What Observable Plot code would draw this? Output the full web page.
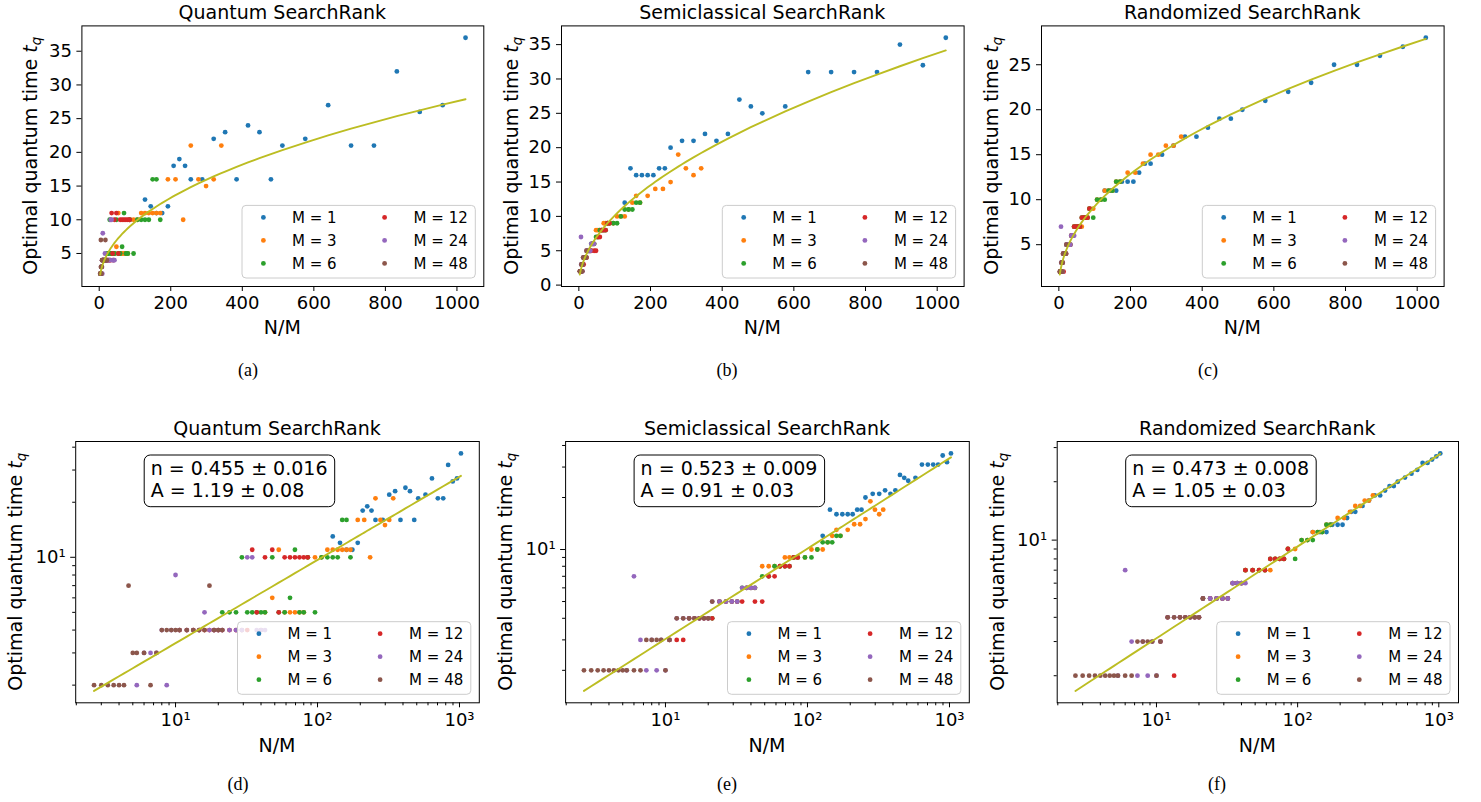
<!DOCTYPE html>
<html><head><meta charset="utf-8">
<script src="https://cdn.jsdelivr.net/npm/d3@7"></script>
<script src="https://cdn.jsdelivr.net/npm/@observablehq/plot@0.6"></script>
<style>
html,body{margin:0;padding:0;background:#fff;overflow:hidden;}
#root{position:relative;width:1481px;height:802px;background:#fff;}
#root svg{position:absolute;left:0;top:0;}
</style></head>
<body><div id="root"></div>
<script>
// ---------- DATA ----------
const N_VALUES = [128,144,160,176,192,208,224,240,256,288,320,352,384,416,448,480,512,576,640,704,768,832,896,960,1024];
const M_VALUES = [1,3,6,12,24,48];
const COLORS = ["#1f77b4","#ff7f0e","#2ca02c","#d62728","#9467bd","#8c564b"];

const quantum_M1  = [13,12,11,11,12,18,19,18,16,16,22,23,16,24,23,16,21,22,27,21,21,32,26,27,37];
const quantum_M3  = [5,6,11,5,5,5,5,5,10,10,10,11,11,11,11,11,11,16,16,10,21,16,15,16,21];
const quantum_M6  = [5,5,5,10,5,5,5,5,5,10,5,5,6,11,5,5,10,5,10,10,10,10,16,16,10];
const quantum_M12 = [4,4,4,4,4,4,4,4,4,4,4,4,4,11,5,4,10,11,5,10,10,10,10,10,10];
const quantum_M24 = [2,3,3,3,4,2,4,8,4,4,4,4,5,4,4,4,4,4,4,4,10,10,4,4,4];
const quantum_M48 = [2,2,2,2,2,2,7,3,3,3,2,3,4,4,4,4,4,4,4,4,4,7,4,4,4];

const semi_M1  = [12,17,16,16,16,16,17,17,20,21,21,22,21,22,27,26,25,26,31,31,31,31,35,32,36];
const semi_M3  = [6,8,8,8,8,9,9,9,9,9,10,10,10,11,12,13,12,13,14,14,15,19,17,16,17];
const semi_M6  = [4,5,5,5,5,6,6,6,6,7,7,8,8,8,8,9,9,9,9,10,11,11,11,12,12];
const semi_M12 = [3,3,3,4,4,4,4,4,4,5,5,5,5,5,6,6,5,5,7,7,8,8,8,9,9];
const semi_M24 = [2,7,3,2,3,2,3,2,3,4,4,4,4,4,4,4,5,5,5,5,5,6,6,6,6];
const semi_M48 = [2,2,2,2,2,2,2,2,2,2,2,3,3,3,3,2,3,4,4,4,4,4,4,4,5];

const rand_M1  = [11,11,11,12,12,12,13,14,14,15,16,17,17,18,19,19,20,21,22,23,25,25,26,27,28];
const rand_M3  = [7,7,7,7,7,8,8,8,9,9,10,10,11,11,11,12,12,13,13,14,15,15,16,16,17];
const rand_M6  = [5,5,5,5,5,6,6,6,7,7,7,7,8,8,8,8,9,8,10,10,10,11,11,12,12];
const rand_M12 = [3,4,2,4,4,4,4,4,5,5,5,5,5,6,6,6,7,7,7,7,8,8,8,8,9];
const rand_M24 = [2,7,3,2,3,2,3,2,3,4,4,4,4,4,4,4,5,5,5,5,5,6,6,6,6];
const rand_M48 = [2,2,2,2,2,2,2,2,2,2,2,3,3,3,3,2,3,4,4,4,4,4,4,4,5];

const TITLES = ["Quantum SearchRank","Semiclassical SearchRank","Randomized SearchRank"];
const FIT_N = [0.455,0.523,0.473];
const FIT_A = [1.19,0.91,1.05];
const FIT_N_TEXT = ["0.455 ± 0.016","0.523 ± 0.009","0.473 ± 0.008"];
const FIT_A_TEXT = ["1.19 ± 0.08","0.91 ± 0.03","1.05 ± 0.03"];
const LIN_X_TICKS = [0,200,400,600,800,1000];
const LIN_Y_TICKS = [[5,10,15,20,25,30,35],[0,5,10,15,20,25,30,35],[5,10,15,20,25]];
const LOG_MAJOR = [10,100,1000];
const LOG_LABELS = {10:"10¹",100:"10²",1000:"10³"};
const LOG_MINOR = [2,3,4,5,6,7,8,9,20,30,40,50,60,70,80,90,200,300,400,500,600,700,800,900];
const CAPTIONS = ["(a)","(b)","(c)","(d)","(e)","(f)"];
const Y_LABEL = "Optimal quantum time ";
const X_LABEL = "N/M";

const SERIES = [
  [quantum_M1,quantum_M3,quantum_M6,quantum_M12,quantum_M24,quantum_M48],
  [semi_M1,semi_M3,semi_M6,semi_M12,semi_M24,semi_M48],
  [rand_M1,rand_M3,rand_M6,rand_M12,rand_M24,rand_M48]
];

// ---------- LAYOUT ----------
const W = 1481, H = 802;
const PANELS = [
  {m:0, log:false, L:81.4,  R:483.3,  T:25.4, B:286,   ylx:36.5,  capx:248,  capy:376},
  {m:1, log:false, L:561,   R:963.6,  T:25.4, B:286,   ylx:518,   capx:727,  capy:376},
  {m:2, log:false, L:1041,  R:1443.6, T:25.4, B:286,   ylx:998,   capx:1208, capy:376},
  {m:0, log:true,  L:75.2,  R:478.8,  T:441,  B:702.3, ylx:22,    capx:238,  capy:790},
  {m:1, log:true,  L:565.1, R:968.8,  T:441,  B:702.3, ylx:512,   capx:727,  capy:790},
  {m:2, log:true,  L:1056.7,R:1458,   T:441,  B:702.3, ylx:1003.5,capx:1217, capy:790}
];

const root = document.getElementById("root");

function pad(lo, hi, log) {
  if (log) {
    const a = Math.log10(lo), b = Math.log10(hi), s = b - a;
    return [10 ** (a - 0.05 * s), 10 ** (b + 0.05 * s)];
  }
  const s = hi - lo;
  return [lo - 0.05 * s, hi + 0.05 * s];
}

PANELS.forEach((p, pi) => {
  const groups = M_VALUES.map((M, i) => SERIES[p.m][i].map((t, j) => ({x: N_VALUES[j] / M, t, M})));
  const all = groups.flat();
  const xs = Array.from(new Set(all.map(d => d.x))).sort((a, b) => a - b);
  const fit = xs.map(x => ({x, t: FIT_A[p.m] * Math.pow(x, FIT_N[p.m])}));
  const xd = pad(d3.min(xs), d3.max(xs), p.log);
  const yd = pad(Math.min(d3.min(all, d => d.t), d3.min(fit, d => d.t)),
                 Math.max(d3.max(all, d => d.t), d3.max(fit, d => d.t)), p.log);

  const common = {tickSize: 5, tickPadding: 5, fontSize: 18, label: null};
  let axes;
  if (p.log) {
    axes = [
      Plot.axisX({...common, ticks: LOG_MAJOR, tickFormat: d => LOG_LABELS[d]}),
      Plot.axisX({...common, ticks: LOG_MINOR.filter(v => v > xd[0] && v < xd[1]), tickSize: 3, tickFormat: () => ""}),
      Plot.axisY({...common, ticks: LOG_MAJOR.filter(v => v > yd[0] && v < yd[1]), tickFormat: d => LOG_LABELS[d]}),
      Plot.axisY({...common, ticks: LOG_MINOR.filter(v => v > yd[0] && v < yd[1]), tickSize: 3, tickFormat: () => ""})
    ];
  } else {
    axes = [
      Plot.axisX({...common, ticks: LIN_X_TICKS, tickFormat: d => String(d)}),
      Plot.axisY({...common, ticks: LIN_Y_TICKS[p.m], tickFormat: d => String(d)})
    ];
  }

  const svg = Plot.plot({
    width: W, height: H,
    marginLeft: p.L, marginRight: W - p.R, marginTop: p.T, marginBottom: H - p.B,
    style: {background: "transparent", fontFamily: "DejaVu Sans", fontSize: "18px", color: "#000", overflow: "visible"},
    x: {type: p.log ? "log" : "linear", domain: xd, label: null},
    y: {type: p.log ? "log" : "linear", domain: yd, label: null},
    marks: [
      ...groups.map((g, i) => Plot.dot(g, {x: "x", y: "t", r: 2.4, fill: COLORS[i], stroke: null})),
      Plot.line(fit, {x: "x", y: "t", stroke: "#bcbd22", strokeWidth: 1.9}),
      ...axes,
      Plot.frame({stroke: "#000", strokeWidth: 1})
    ]
  });
  root.appendChild(svg);

  // make sure tick labels use the intended font and size
  d3.select(svg).selectAll('g[aria-label$="tick label"]')
    .attr("font-size", 18).style("font-size", "18px").style("font-family", "DejaVu Sans");
  d3.select(svg).selectAll('g[aria-label$="tick label"] text')
    .attr("font-size", 18).style("font-size", "18px");

  const g = d3.select(svg).append("g").attr("font-family", "DejaVu Sans").attr("fill", "#000")
    .attr("text-anchor", "start");
  const cx = (p.L + p.R) / 2, cy = (p.T + p.B) / 2;

  // title
  g.append("text").attr("x", cx).attr("y", p.log ? 434.5 : 18.9)
    .attr("text-anchor", "middle").attr("font-size", 19).text(TITLES[p.m]);
  // x label
  g.append("text").attr("x", cx).attr("y", p.log ? 752 : 333.5)
    .attr("text-anchor", "middle").attr("font-size", 19).text(X_LABEL);
  // y label
  const yl = g.append("text").attr("transform", `translate(${p.ylx},${cy}) rotate(-90)`)
    .attr("text-anchor", "middle").attr("font-size", 19);
  yl.append("tspan").text(Y_LABEL);
  yl.append("tspan").attr("font-style", "italic").text("t");
  yl.append("tspan").attr("font-size", 13.5).attr("font-style", "italic").attr("dy", 4).text("q");

  // legend
  const lw = 233.3, lh = 72.6;
  const lx = p.R - 8 - lw, ly = p.B - 8 - lh;
  g.append("rect").attr("x", lx).attr("y", ly).attr("width", lw).attr("height", lh).attr("rx", 4)
    .attr("fill", "#fff").attr("fill-opacity", 0.8).attr("stroke", "#cccccc").attr("stroke-width", 1);
  M_VALUES.forEach((M, i) => {
    const col = i < 3 ? 0 : 1, row = i % 3;
    const mx = lx + (col ? 142.6 : 21.4), my = ly + 12 + row * 23;
    g.append("circle").attr("cx", mx).attr("cy", my).attr("r", 2.4).attr("fill", COLORS[i]);
    g.append("text").attr("x", lx + (col ? 171.6 : 50)).attr("y", my + 5.4)
      .attr("text-anchor", "start").attr("font-size", 15).text("M = " + M);
  });

  // fit box on log panels
  if (p.log) {
    const bx = p.L + 69, by = 455;
    g.append("rect").attr("x", bx).attr("y", by).attr("width", 190.5).attr("height", 51.7).attr("rx", 6)
      .attr("fill", "#fff").attr("stroke", "#000").attr("stroke-width", 1);
    g.append("text").attr("x", bx + 6.5).attr("y", 475).attr("text-anchor", "start")
      .attr("font-size", 19).text("n = " + FIT_N_TEXT[p.m]);
    g.append("text").attr("x", bx + 6.5).attr("y", 496.7).attr("text-anchor", "start")
      .attr("font-size", 19).text("A = " + FIT_A_TEXT[p.m]);
  }

  // caption
  g.append("text").attr("x", p.capx).attr("y", p.capy).attr("text-anchor", "middle")
    .attr("font-family", "Liberation Serif").attr("font-size", 18).text(CAPTIONS[pi]);
});
</script>
</body></html>
